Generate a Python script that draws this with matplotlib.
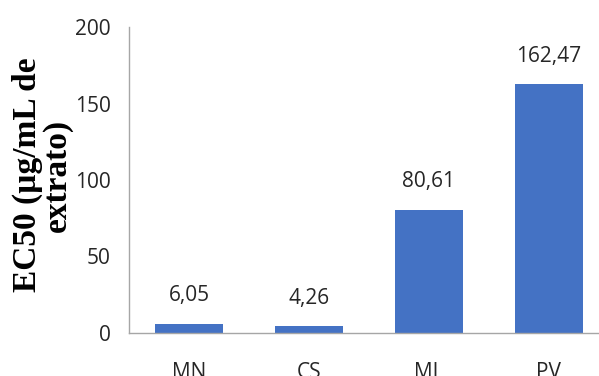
import matplotlib.pyplot as plt
import numpy as np

# EC50 por extrato
categorias = ['MN', 'CS', 'ML', 'PV']
ec50 = [6.05, 4.26, 80.61, 162.47]
rotulos = ['6,05', '4,26', '80,61', '162,47']
yticks = [0, 50, 100, 150, 200]

fig = plt.figure(figsize=(5.99, 3.76), dpi=100)
ax = fig.add_axes([129 / 599, 1 - 333 / 376, 1 - 129 / 599, (333 - 27) / 376])

x = np.arange(len(categorias))
ax.bar(x, ec50, width=0.567, color='#4472C4', zorder=2)

for xi, v, lab in zip(x, ec50, rotulos):
    ax.annotate(lab, xy=(xi, v), xytext=(0, 20), textcoords='offset points',
                ha='center', va='center', fontsize=15, color='#262626',
                family='Open Sans')

ax.set_xlim(-0.5, 3.417)
ax.set_ylim(0, 200)
ax.set_xticks(x)
ax.set_xticklabels(categorias)
ax.set_yticks(yticks)
ax.tick_params(length=0, labelsize=15, colors='#262626')
ax.tick_params(axis='y', pad=13)
ax.tick_params(axis='x', pad=21)
for lab in ax.get_xticklabels() + ax.get_yticklabels():
    lab.set_family('Open Sans')

for s in ['top', 'right']:
    ax.spines[s].set_visible(False)
for s in ['left', 'bottom']:
    ax.spines[s].set_color('#a6a6a6')
    ax.spines[s].set_linewidth(1)

fig.text(42 / 599, 1 - 175 / 376, 'EC50 (µg/mL de\nextrato)', rotation=90,
         ha='center', va='center', fontsize=24, fontweight='bold',
         family='Liberation Serif', linespacing=0.95)

fig.savefig('out.png', dpi=100)
